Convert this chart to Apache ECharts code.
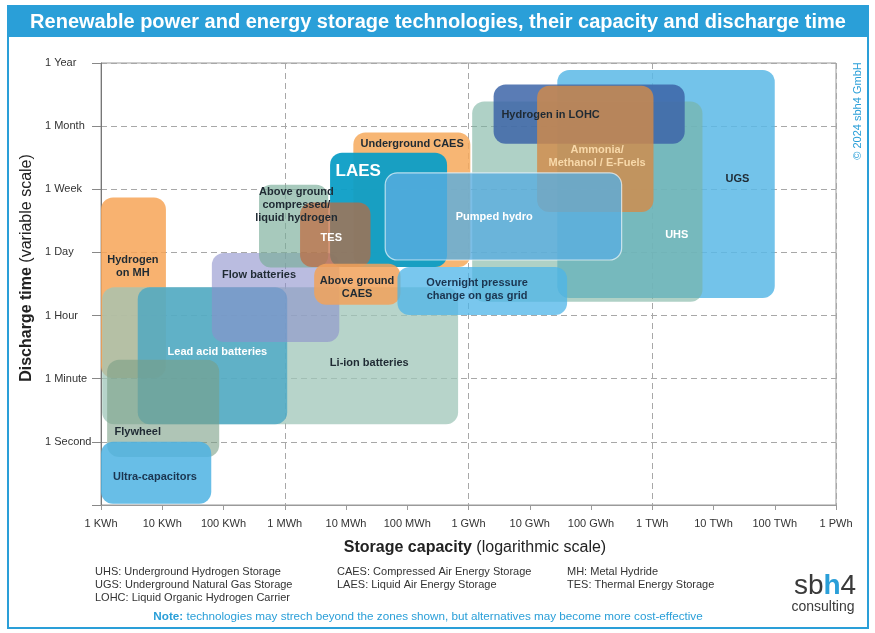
<!DOCTYPE html>
<html>
<head>
<meta charset="utf-8">
<script src="https://cdn.jsdelivr.net/npm/echarts@6/dist/echarts.min.js"></script>
<style>
html, body { margin: 0; padding: 0; background: #fff; }
#chart { width: 875px; height: 633px; }
</style>
</head>
<body>
<div id="chart"></div>
<script>
// x: storage capacity, log10(kWh)  0 = 1 KWh ... 12 = 1 PWh
// y: discharge time, variable scale 1 = 1 Second ... 7 = 1 Year
var xTickLabels = ['1 KWh', '10 KWh', '100 KWh', '1 MWh', '10 MWh', '100 MWh', '1 GWh',
    '10 GWh', '100 GWh', '1 TWh', '10 TWh', '100 TWh', '1 PWh'];
var yTickLabels = ['', '1 Second', '1 Minute', '1 Hour', '1 Day', '1 Week', '1 Month', '1 Year'];

// zones, back to front
var techNames = ['Hydrogen on MH', 'Li-ion batteries', 'Lead acid batteries', 'Flywheel', 'Ultra-capacitors',
    'Flow batteries', 'Above ground compressed/liquid hydrogen', 'Underground CAES', 'LAES', 'TES',
    'Above ground CAES', 'UGS', 'UHS', 'Hydrogen in LOHC', 'Ammonia/Methanol/E-Fuels',
    'Pumped hydro', 'Overnight pressure change on gas grid'];
var capacityFrom = [0.00, 0.02, 0.60, 0.10, 0.00, 1.81, 2.58, 4.12, 3.74, 3.25, 3.48, 7.45, 6.06, 6.41, 7.12, 4.64, 4.84];
var capacityTo   = [1.06, 5.83, 3.04, 1.93, 1.80, 3.89, 3.71, 6.03, 5.65, 4.40, 4.89, 11.0, 9.82, 9.53, 9.02, 8.50, 7.61];
var dischargeFrom = [2.01, 1.28, 1.28, 0.76, 0.02, 2.58, 3.76, 3.77, 3.77, 3.77, 3.17, 3.28, 3.22, 5.72, 4.64, 3.88, 3.01];
var dischargeTo   = [4.87, 3.45, 3.45, 2.30, 1.00, 3.99, 5.07, 5.90, 5.58, 4.79, 3.82, 6.89, 6.39, 6.66, 6.64, 5.26, 3.77];

var DARK = '#1f2a33';
var techStyle = {
    'Hydrogen on MH':          { color: '#f7a557', opacity: 0.85, label: 'Hydrogen\non MH', at: [0.52, 3.77], textColor: DARK },
    'Li-ion batteries':        { color: '#9fc6b8', opacity: 0.75, label: 'Li-ion batteries', at: [4.38, 2.25], textColor: DARK },
    'Lead acid batteries':     { color: '#3ca2c6', opacity: 0.7,  label: 'Lead acid batteries', at: [1.9, 2.42], textColor: '#ffffff' },
    'Flywheel':                { color: '#7a9f86', opacity: 0.6,  label: 'Flywheel', at: [0.6, 1.16], textColor: DARK },
    'Ultra-capacitors':        { color: '#4db3e3', opacity: 0.85, label: 'Ultra-capacitors', at: [0.88, 0.44], textColor: '#1b3550' },
    'Flow batteries':          { color: '#8c8fcb', opacity: 0.6,  label: 'Flow batteries', at: [2.58, 3.65], textColor: DARK },
    'Above ground compressed/liquid hydrogen':
                               { color: '#78ac98', opacity: 0.65, label: 'Above ground\ncompressed/\nliquid hydrogen', at: [3.19, 4.75], textColor: DARK },
    'Underground CAES':        { color: '#f6a95c', opacity: 0.85, label: 'Underground CAES', at: [5.08, 5.71], textColor: DARK },
    'LAES':                    { color: '#0c9ec6', opacity: 0.95, label: 'LAES', at: [4.2, 5.28], textColor: '#ffffff', big: true },
    'TES':                     { color: '#c0683c', opacity: 0.7,  label: 'TES', at: [3.76, 4.23], textColor: '#ffffff' },
    'Above ground CAES':       { color: '#f2a25a', opacity: 0.85, label: 'Above ground\nCAES', at: [4.18, 3.44], textColor: DARK },
    'UGS':                     { color: '#5bb9e6', opacity: 0.85, label: 'UGS', at: [10.39, 5.17], textColor: DARK },
    'UHS':                     { color: '#79b3a0', opacity: 0.6,  label: 'UHS', at: [9.4, 4.28], textColor: '#ffffff' },
    'Hydrogen in LOHC':        { color: '#3d65a8', opacity: 0.85, label: 'Hydrogen in LOHC', at: [7.34, 6.18], textColor: DARK },
    'Ammonia/Methanol/E-Fuels':{ color: '#d48b47', opacity: 0.8,  label: 'Ammonia/\nMethanol / E-Fuels', at: [8.1, 5.52], textColor: '#f8d9aa' },
    'Pumped hydro':            { color: '#5aaee0', opacity: 0.8,  label: 'Pumped hydro', at: [6.42, 4.56], textColor: '#ffffff', stroke: 'rgba(255,255,255,0.8)' },
    'Overnight pressure change on gas grid':
                               { color: '#4cb4e8', opacity: 0.75, label: 'Overnight pressure\nchange on gas grid', at: [6.14, 3.42], textColor: '#1b3550' }
};

var zoneData = techNames.map(function (n, i) {
    return [capacityFrom[i], capacityTo[i], dischargeFrom[i], dischargeTo[i]];
});

var BLUE = '#2a9fd8';
var FONT = 'Liberation Sans, Arial, sans-serif';

function renderZone(params, api) {
    var st = techStyle[techNames[params.dataIndex]];
    var p0 = api.coord([api.value(0), api.value(3)]);
    var p1 = api.coord([api.value(1), api.value(2)]);
    return {
        type: 'rect',
        shape: { x: p0[0], y: p0[1], width: p1[0] - p0[0], height: p1[1] - p0[1], r: 12 },
        style: {
            fill: st.color,
            opacity: st.opacity,
            stroke: st.stroke || null,
            lineWidth: st.stroke ? 1.2 : 0
        }
    };
}

function renderLabel(params, api) {
    var st = techStyle[techNames[params.dataIndex]];
    var p = api.coord(st.at);
    return {
        type: 'text',
        x: p[0],
        y: p[1],
        style: {
            text: st.label,
            fill: st.textColor,
            fontFamily: FONT,
            fontWeight: 'bold',
            fontSize: st.big ? 17 : 11,
            lineHeight: 13,
            align: 'center',
            verticalAlign: 'middle'
        }
    };
}

var chart = echarts.init(document.getElementById('chart'));
var option = {
    animation: false,
    grid: {
        left: 101, right: 39, top: 63, bottom: 128,
        show: true, borderColor: '#9a9a9a', borderWidth: 1,
        outerBoundsMode: 'none'
    },
    xAxis: [
        {
            type: 'value', min: 0, max: 12, interval: 1,
            axisLine: { lineStyle: { color: '#9a9a9a' } },
            axisTick: { length: 5, lineStyle: { color: '#9a9a9a' } },
            axisLabel: {
                margin: 13, color: '#333', fontSize: 11, fontFamily: FONT,
                formatter: function (v) { return xTickLabels[v]; }
            },
            splitLine: { show: false }
        },
        {
            // only the dashed decade lines at 1 MWh / 1 GWh / 1 TWh
            type: 'value', min: 0, max: 12, interval: 3,
            axisLine: { show: false }, axisTick: { show: false }, axisLabel: { show: false },
            splitLine: { show: true, lineStyle: { color: '#a8a8a8', type: [6, 4], width: 1 } }
        }
    ],
    yAxis: {
        type: 'value', min: 0, max: 7, interval: 1,
        axisLine: { show: true, lineStyle: { color: '#777' } },
        axisTick: { show: true, length: 9, lineStyle: { color: '#888' } },
        axisLabel: {
            align: 'left', margin: 56, color: '#333', fontSize: 11, fontFamily: FONT,
            formatter: function (v) { return yTickLabels[v]; }
        },
        splitLine: { show: true, lineStyle: { color: '#a8a8a8', type: [6, 4], width: 1 } }
    },
    series: [
        { type: 'custom', renderItem: renderZone, data: zoneData, encode: { x: [0, 1], y: [2, 3] }, z: 2, silent: true },
        { type: 'custom', renderItem: renderLabel, data: zoneData, encode: { x: [0, 1], y: [2, 3] }, z: 5, silent: true }
    ],
    graphic: [
        { type: 'rect', shape: { x: 8, y: 6, width: 860, height: 622 }, style: { fill: 'none', stroke: BLUE, lineWidth: 2 }, z: 10 },
        { type: 'rect', shape: { x: 8, y: 6, width: 860, height: 31 }, style: { fill: BLUE }, z: 10 },
        {
            type: 'text', x: 438, y: 22, z: 11,
            style: {
                text: 'Renewable power and energy storage technologies, their capacity and discharge time',
                fill: '#fff', fontFamily: FONT, fontWeight: 'bold', fontSize: 20, align: 'center', verticalAlign: 'middle'
            }
        },
        {
            type: 'text', x: 858, y: 111, rotation: Math.PI / 2, z: 11,
            style: { text: '\u00a9 2024 sbh4 GmbH', fill: BLUE, fontFamily: FONT, fontSize: 11, align: 'center', verticalAlign: 'middle' }
        },
        {
            type: 'text', x: 27, y: 268, rotation: Math.PI / 2, z: 11,
            style: {
                text: '{b|Discharge time} (variable scale)',
                fill: '#222', fontFamily: FONT, fontSize: 16, align: 'center', verticalAlign: 'middle',
                rich: { b: { fontWeight: 'bold', fontSize: 16, fontFamily: FONT, fill: '#222' } }
            }
        },
        {
            type: 'text', x: 475, y: 548, z: 11,
            style: {
                text: '{b|Storage capacity} (logarithmic scale)',
                fill: '#222', fontFamily: FONT, fontSize: 16, align: 'center', verticalAlign: 'middle',
                rich: { b: { fontWeight: 'bold', fontSize: 16, fontFamily: FONT, fill: '#222' } }
            }
        },
        {
            type: 'text', x: 95, y: 565.5, z: 11,
            style: {
                text: 'UHS: Underground Hydrogen Storage\nUGS: Underground Natural Gas Storage\nLOHC: Liquid Organic Hydrogen Carrier',
                fill: '#333', fontFamily: FONT, fontSize: 11, lineHeight: 13, verticalAlign: 'top'
            }
        },
        {
            type: 'text', x: 337, y: 565.5, z: 11,
            style: {
                text: 'CAES: Compressed Air Energy Storage\nLAES: Liquid Air Energy Storage',
                fill: '#333', fontFamily: FONT, fontSize: 11, lineHeight: 13, verticalAlign: 'top'
            }
        },
        {
            type: 'text', x: 567, y: 565.5, z: 11,
            style: {
                text: 'MH: Metal Hydride\nTES: Thermal Energy Storage',
                fill: '#333', fontFamily: FONT, fontSize: 11, lineHeight: 13, verticalAlign: 'top'
            }
        },
        {
            type: 'text', x: 428, y: 617, z: 11,
            style: {
                text: '{b|Note:} technologies may strech beyond the zones shown, but alternatives may become more cost-effective',
                fill: BLUE, fontFamily: FONT, fontSize: 11.7, align: 'center', verticalAlign: 'middle',
                rich: { b: { fontWeight: 'bold', fontSize: 11.7, fontFamily: FONT, fill: BLUE } }
            }
        },
        {
            type: 'text', x: 825, y: 586, z: 11,
            style: {
                text: '{a|sb}{h|h}{a|4}',
                fontFamily: FONT, align: 'center', verticalAlign: 'middle',
                rich: {
                    a: { fontSize: 28, fontFamily: FONT, fill: '#3a3a3a' },
                    h: { fontSize: 28, fontFamily: FONT, fontWeight: 'bold', fill: BLUE }
                }
            }
        },
        {
            type: 'text', x: 823, y: 607, z: 11,
            style: { text: 'consulting', fill: '#3a3a3a', fontFamily: FONT, fontSize: 14, align: 'center', verticalAlign: 'middle' }
        }
    ]
};
chart.setOption(option);
</script>
</body>
</html>
